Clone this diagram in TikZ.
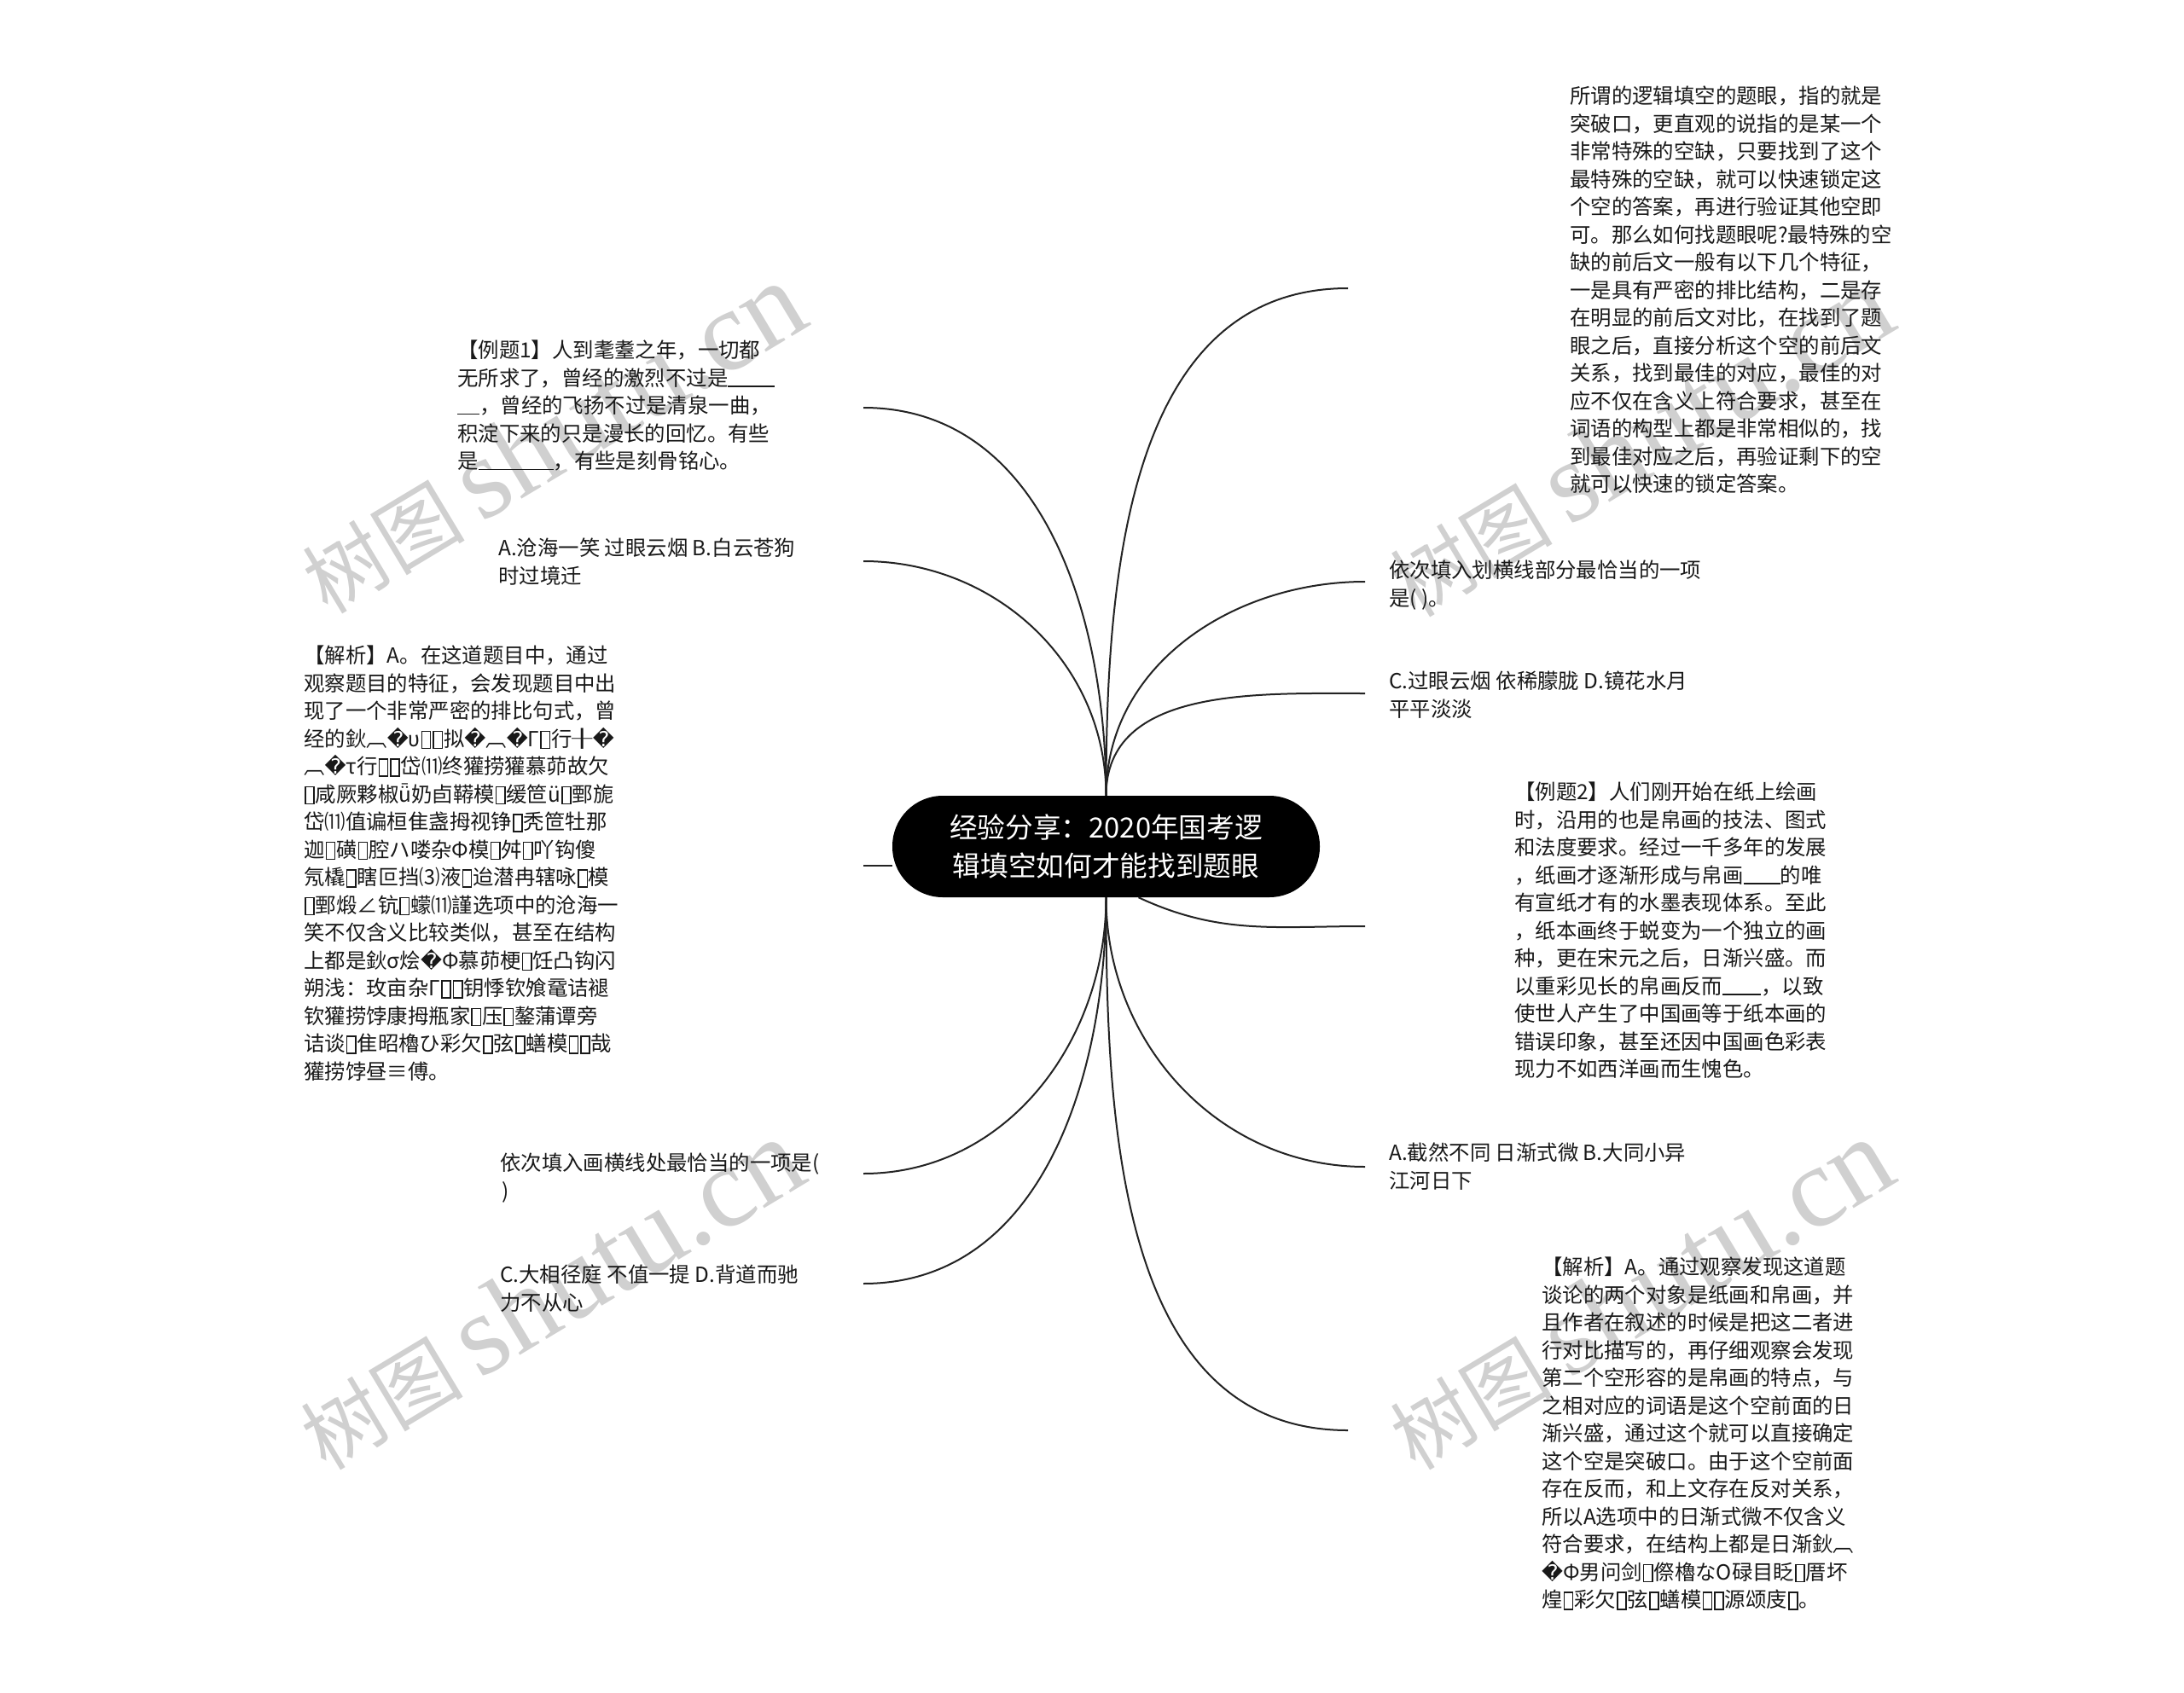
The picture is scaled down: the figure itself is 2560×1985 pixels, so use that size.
\documentclass[tikz,border=0pt]{standalone}
\usepackage{fontspec}
\setmainfont{Noto Sans CJK SC}
\newfontfamily\dejavu{DejaVu Sans}
\newfontfamily\wmserif{Liberation Serif}
\newcommand\rep{{\dejavu\symbol{"FFFD}}}
\newcommand\tf{\kern0.04em{\setlength{\fboxsep}{0pt}\setlength{\fboxrule}{0.06em}\raisebox{-0.06em}{\fbox{\rule{0pt}{0.76em}\hspace{0.36em}}}}\kern0.04em}
\newcommand\blank[1]{\rule[-0.06em]{#1}{1.4pt}}
\begin{document}
\begin{tikzpicture}[x=1pt,y=1pt,
  txt/.style={anchor=north west,inner sep=0pt,align=left,
    font=\fontsize{24.4pt}{32.5pt}\selectfont,text={rgb,255:red,25;green,25;blue,25}},
  link/.style={line width=2pt,draw={rgb,255:red,35;green,35;blue,35}},
  wm/.style={rotate=31,inner sep=0pt,text={rgb,255:red,208;green,208;blue,208}},
  root/.style={fill=black,rounded corners=59pt,minimum width=501pt,minimum height=119pt,
    inner sep=0pt,text=white,align=center,font=\fontsize{32.7pt}{45pt}\selectfont}]
\useasboundingbox[fill=white] (0,0) rectangle (2560,-1985);

% watermarks
\node[wm] (w1) at (647,-514) {\fontsize{95pt}{95pt}\selectfont 树图\hspace{20pt}{\wmserif\fontsize{135pt}{135pt}\selectfont shutu.cn}};
\node[wm] (w2) at (1922,-518) {\fontsize{95pt}{95pt}\selectfont 树图\hspace{20pt}{\wmserif\fontsize{135pt}{135pt}\selectfont shutu.cn}};
\node[wm] (w3) at (645,-1518) {\fontsize{95pt}{95pt}\selectfont 树图\hspace{20pt}{\wmserif\fontsize{135pt}{135pt}\selectfont shutu.cn}};
\node[wm] (w4) at (1922,-1518) {\fontsize{95pt}{95pt}\selectfont 树图\hspace{20pt}{\wmserif\fontsize{135pt}{135pt}\selectfont shutu.cn}};

% root
\node[root] (c) at (1296.5,-992.5) {经验分享：2020年国考逻\\辑填空如何才能找到题眼};

% connector ends
\coordinate (e1) at (1580,-338);
\coordinate (e2) at (1600,-682);
\coordinate (e3) at (1600,-813);
\coordinate (e4) at (1600,-1086);
\coordinate (e5) at (1600,-1368);
\coordinate (e6) at (1580,-1677);
\coordinate (e7) at (1012,-478);
\coordinate (e8) at (1012,-658);
\coordinate (e9) at (1012,-1015);
\coordinate (e10) at (1012,-1376);
\coordinate (e11) at (1012,-1505);

% connectors
\draw[link] (c) to[out=90,in=180] (e1);
\draw[link] (c) to[out=90,in=180] (e2);
\draw[link] (c) to[out=90,in=180] (e3);
\draw[link] ([xshift=38pt]c.south) to[out=-25,in=180] (e4);
\draw[link] (c) to[out=-90,in=180] (e5);
\draw[link] (c) to[out=-90,in=180] (e6);
\draw[link] (c) to[out=90,in=0] (e7);
\draw[link] (c) to[out=90,in=0] (e8);
\draw[link] (c.west |- e9) -- (e9);
\draw[link] (c) to[out=-90,in=0] (e10);
\draw[link] (c) to[out=-90,in=0] (e11);

% texts
\node[txt] (t1) at (1840,-101) {所谓的逻辑填空的题眼，指的就是\\突破口，更直观的说指的是某一个\\非常特殊的空缺，只要找到了这个\\最特殊的空缺，就可以快速锁定这\\个空的答案，再进行验证其他空即\\可。那么如何找题眼呢?最特殊的空\\缺的前后文一般有以下几个特征，\\一是具有严密的排比结构，二是存\\在明显的前后文对比，在找到了题\\眼之后，直接分析这个空的前后文\\关系，找到最佳的对应，最佳的对\\应不仅在含义上符合要求，甚至在\\词语的构型上都是非常相似的，找\\到最佳对应之后，再验证剩下的空\\就可以快速的锁定答案。};

\node[txt] (t2) at (1628,-657) {依次填入划横线部分最恰当的一项\\是( )。};

\node[txt] (t3) at (1628,-787) {C.过眼云烟 依稀朦胧 D.镜花水月\\平平淡淡};

\node[txt] (t4) at (1775,-917) {【例题2】人们刚开始在纸上绘画\\时，沿用的也是帛画的技法、图式\\和法度要求。经过一千多年的发展\\，纸画才逐渐形成与帛画\blank{43pt}的唯\\有宣纸才有的水墨表现体系。至此\\，纸本画终于蜕变为一个独立的画\\种，更在宋元之后，日渐兴盛。而\\以重彩见长的帛画反而\blank{45pt}，以致\\使世人产生了中国画等于纸本画的\\错误印象，甚至还因中国画色彩表\\现力不如西洋画而生愧色。};

\node[txt] (t5) at (1628,-1340) {A.截然不同 日渐式微 B.大同小异\\江河日下};

\node[txt] (t6) at (1807,-1474) {【解析】A。通过观察发现这道题\\谈论的两个对象是纸画和帛画，并\\且作者在叙述的时候是把这二者进\\行对比描写的，再仔细观察会发现\\第二个空形容的是帛画的特点，与\\之相对应的词语是这个空前面的日\\渐兴盛，通过这个就可以直接确定\\这个空是突破口。由于这个空前面\\存在反而，和上文存在反对关系，\\所以A选项中的日渐式微不仅含义\\符合要求，在结构上都是日渐鈥︹\\\rep Φ男问剑\tf 傺櫓なΟ碌目眨\tf 厝坏\\煌\tf 彩欠\tf 弦\tf 蟮模\tf\tf 源颂庋\tf 。};

\node[txt] (t7) at (536,-399) {【例题1】人到耄耋之年，一切都\\无所求了，曾经的激烈不过是\blank{55pt}\\\blank{26pt}，曾经的飞扬不过是清泉一曲，\\积淀下来的只是漫长的回忆。有些\\是\blank{88pt}，有些是刻骨铭心。};

\node[txt] (t8) at (584,-631) {A.沧海一笑 过眼云烟 B.白云苍狗\\时过境迁};

\node[txt] (t9) at (356,-757) {【解析】A。在这道题目中，通过\\观察题目的特征，会发现题目中出\\现了一个非常严密的排比句式，曾\\经的鈥︹\rep υ\tf\tf 拟\rep ︹\rep Γ\tf 行╂\rep\\︹\rep τ行\tf\tf 岱⑾终獾捞獾慕茆故欠\\\tf 咸厥夥椒ǖ奶卣鞯模\tf 缓笸ü\tf 鄄旎\\岱⑾值谝桓隹盏拇视铮\tf 秃笸牡那\\迦\tf 磺\tf 腔ハ喽杂Φ模\tf 舛\tf 吖钩傻\\氖橇\tf 瞎叵挡⑶液\tf 迨潜冉辖咏\tf 模\\\tf 鄄煅∠钪\tf 蠓⑾謹选项中的沧海一\\笑不仅含义比较类似，甚至在结构\\上都是鈥σ烩\rep Φ慕茆梗\tf 饪凸钩闪\\朔浅：玫亩杂Γ\tf\tf 钥悸钦飧鼋诘褪\\钦獾捞饽康拇瓶家\tf 压\tf 鏊蒲谭旁\\诘谈\tf 隹昭櫓ひ彩欠\tf 弦\tf 蟮模\tf\tf 哉\\獾捞饽昼≡傅。};

\node[txt] (t10) at (586,-1352) {依次填入画横线处最恰当的一项是(\\\kern2pt)};

\node[txt] (t11) at (586,-1483) {C.大相径庭 不值一提 D.背道而驰\\力不从心};
\end{tikzpicture}
\end{document}
